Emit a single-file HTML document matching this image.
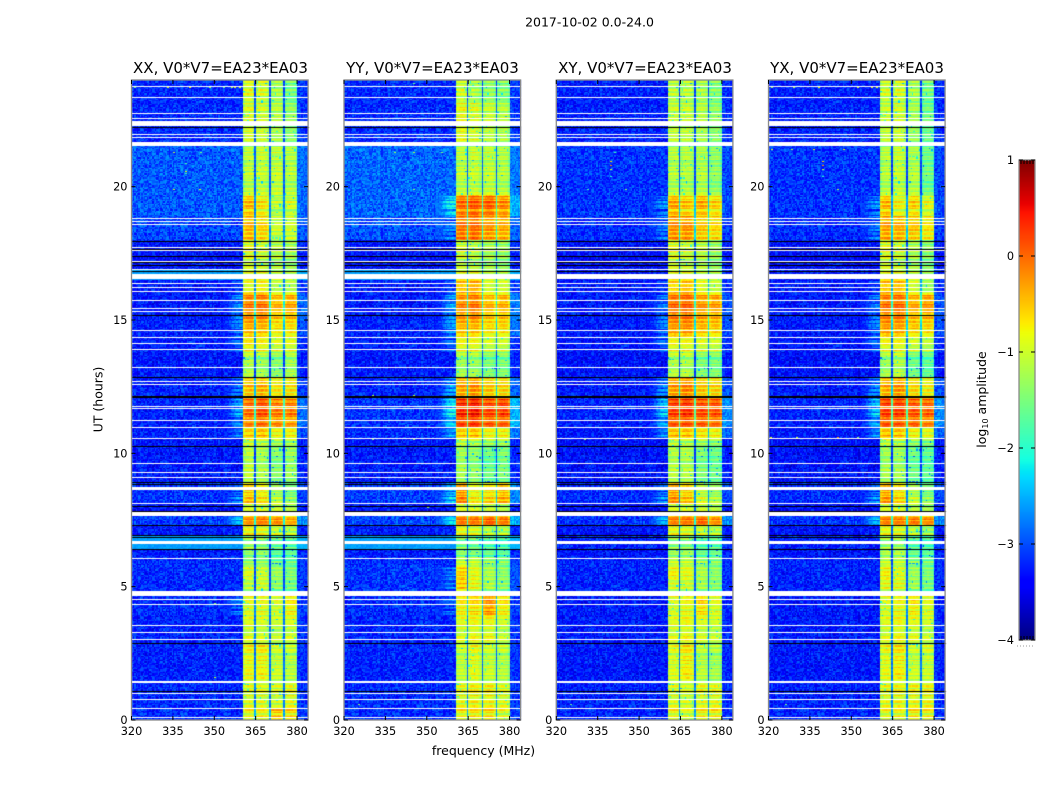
<!DOCTYPE html>
<html lang="en">
<head>
<meta charset="utf-8">
<title>2017-10-02 0.0-24.0</title>
<style>
html,body{margin:0;padding:0;background:#fff;}
#stage{position:relative;width:1050px;height:800px;overflow:hidden;background:#fff;}
#stage canvas,#stage svg{position:absolute;left:0;top:0;}
text{font-family:"DejaVu Sans","Liberation Sans",sans-serif;fill:#000;}
</style>
</head>
<body>
<div id="stage">
<canvas id="heat" width="1050" height="800"></canvas>
<svg id="overlay" width="1050" height="800" viewBox="0 0 1050 800">
  <text x="589.5" y="26.5" font-size="12.5" text-anchor="middle">2017-10-02 0.0-24.0</text>
  <text x="220.5" y="73" font-size="15" text-anchor="middle">XX, V0*V7=EA23*EA03</text>
  <text x="432.5" y="73" font-size="15" text-anchor="middle">YY, V0*V7=EA23*EA03</text>
  <text x="645" y="73" font-size="15" text-anchor="middle">XY, V0*V7=EA23*EA03</text>
  <text x="857" y="73" font-size="15" text-anchor="middle">YX, V0*V7=EA23*EA03</text>
  <text x="483.5" y="755" font-size="12.5" text-anchor="middle">frequency (MHz)</text>
  <text transform="translate(102.5,399.5) rotate(-90)" font-size="12.5" text-anchor="middle">UT (hours)</text>
  <text transform="translate(986,399.5) rotate(-90)" font-size="12.5" text-anchor="middle">log<tspan font-size="8" dy="2">10</tspan><tspan dy="-2"> amplitude</tspan></text>
  <line x1="1017" y1="646" x2="1035" y2="646" stroke="#999" stroke-width="1" stroke-dasharray="1 2"></line>
</svg>
</div>
<script>
// ---- Axis data ----
const freqTicks = [320, 335, 350, 365, 380];
const hourTicks = [0, 5, 10, 15, 20];
const colorbarTicks = [1, 0, -1, -2, -3, -4];
const colorbarLabels = ["1", "0", "\u22121", "\u22122", "\u22123", "\u22124"];
const panelNames = ["xx", "yy", "xy", "yx"];

// ---- Observing bands (MHz) ----
const bandEdgesMHz = [[360.5, 364.6], [365, 370.1], [370.5, 375.1], [375.5, 380]];
const shoulderStartMHz = 353;
const shoulderProfile = [0, .03, .08, .15, .25, .35, .5, .65, .75, .85, .9, .95, 1, 1, 1, 1, 1];
const bandProfile = [-.15, -.04, 0, .02, .03, .02, 0, -.04, -.2];

// ---- Time segments: start hour of each row of the level tables ----
const segmentStartHours = [0, .4, 1.45, 2.88, 3.9, 4.6, 4.85, 5.3, 5.8, 6.1, 6.4, 6.9, 7.3, 7.65, 7.85, 8.15, 8.9, 10.3, 10.55, 11, 12.1, 12.85, 13.8, 14.4, 15, 16, 16.5, 16.9, 18, 18.9, 19.7, 21.6, 23.2];

// ---- log10 amplitude per segment: background, shoulder, band 1-4 ----
const xxLevels = [
[-3.2,-9,-.9,-.85,-.55,-.7],[-3.2,-9,-1,-1,-1.05,-.95],[-3.25,-9,-.9,-.85,-1.1,-1.2],[-3.25,-9,-1,-1.05,-1.1,-1.05],
[-3.2,-2.9,-.95,-.95,-1.05,-.85],[-3.2,-9,-1,-1,-1.2,-1],[-3.2,-9,-1.15,-1,-1.4,-1.5],[-3.2,-9,-.95,-1.05,-1.3,-1.5],
[-3.2,-9,-1.5,-1.5,-1.7,-1.7],[-3.3,-9,-1.5,-1.5,-1.8,-1.8],[-2.6,-9,-1.3,-1.4,-1.6,-1.7],[-3.3,-9,-.85,-.95,-1.1,-1.2],
[-3.1,-2.5,-.3,-.2,-.3,-.45],[-3.2,-9,-.8,-.8,-.8,-1],[-3.3,-9,-1,-1,-1.1,-1.2],[-3.15,-2.9,-.6,-.8,-1.25,-1.5],
[-3.3,-9,-1.15,-1.25,-1.45,-1.35],[-3.3,-9,-.95,-1.05,-1.2,-1.2],[-3.25,-2.85,-.6,-.5,-.85,-.8],[-3.25,-2.7,-.15,0,-.2,-.25],
[-3.25,-2.95,-.6,-.55,-.8,-.8],[-3.3,-9,-1.2,-1.3,-1.45,-1.3],[-3.25,-3,-.8,-.85,-1.05,-1],[-3.25,-2.85,-.45,-.5,-.75,-.75],
[-3.3,-2.75,-.2,-.15,-.45,-.4],[-3.3,-2.95,-.8,-.7,-1.05,-1.1],[-2.6,-9,-.9,-.9,-1.1,-1.2],[-3.3,-9,-1,-1.1,-1.25,-1.35],
[-3.05,-9,-.55,-.7,-1.1,-1.1],[-2.95,-9,-.55,-.8,-1.2,-1.1],[-2.95,-9,-1.15,-1.1,-1.1,-1.2],[-3.2,-9,-1,-1.05,-1.2,-1.4],[-3.2,-9,-1,-1.05,-1.3,-1.6]];
const yyLevels = [
[-3.2,-9,-.85,-.75,-.7,-.95],[-3.2,-9,-.95,-.85,-.85,-1],[-3.25,-9,-1.15,-.95,-1.1,-1.2],[-3.25,-9,-1,-.9,-.9,-1.1],
[-3.2,-3,-.8,-.7,-.35,-.8],[-3.2,-9,-.9,-.8,-.6,-.9],[-3.15,-2.85,-.55,-.85,-1.2,-1.35],[-3.15,-2.85,-.6,-.9,-1.2,-1.4],
[-3.2,-9,-1.2,-1.2,-1.4,-1.5],[-3.3,-9,-1.5,-1.6,-1.7,-1.8],[-2.6,-9,-1.5,-1.6,-1.7,-1.8],[-3.3,-9,-.9,-1,-1.2,-1.2],
[-3.05,-2.35,-.15,-.15,-.05,-.2],[-3.2,-9,-.8,-.8,-.8,-1],[-3.3,-9,-1,-1,-1.1,-1.2],[-3.1,-2.55,-.3,-.85,-.7,-.5],
[-3.3,-9,-1.3,-1.4,-1.6,-1.5],[-3.3,-9,-1,-1.1,-1.2,-1.2],[-3.2,-2.65,-.55,-.5,-.8,-.8],[-3.15,-2.35,.2,.28,.08,.08],
[-3.25,-2.75,-.45,-.35,-.6,-.7],[-3.3,-9,-1.3,-1.3,-1.5,-1.5],[-3.25,-3,-.9,-.9,-1.1,-1.1],[-3.25,-2.7,-.5,-.5,-.7,-.7],
[-3.3,-2.65,-.25,-.15,-.45,-.45],[-3.3,-2.95,-.4,-.3,-.9,-.9],[-2.6,-9,-.9,-.9,-1.1,-1.2],[-3.3,-9,-1.1,-1.2,-1.3,-1.4],
[-3,-2.9,-.2,-.15,-.35,-.45],[-2.9,-2.35,-.15,-.05,-.1,-.3],[-2.9,-9,-1.15,-1.1,-1.1,-1.2],[-3.2,-9,-.9,-1,-1.1,-1.2],[-3.2,-9,-1.1,-1.3,-1.4,-1.5]];
const xyLevels = [
[-3.25,-9,-.9,-1,-.8,-.8],[-3.25,-9,-1,-1.05,-.95,-.95],[-3.3,-9,-1,-.8,-1.2,-1.3],[-3.3,-9,-1,-.9,-1,-1.1],
[-3.3,-9,-1,-.9,-.7,-1],[-3.3,-9,-1,-1,-1,-1.1],[-3.25,-9,-1,-1,-1.25,-1.4],[-3.25,-9,-.8,-.9,-1.2,-1.4],
[-3.25,-9,-1.2,-1.2,-1.4,-1.5],[-3.35,-9,-1.4,-1.4,-1.7,-1.7],[-3.25,-9,-1.4,-1.4,-1.7,-1.7],[-3.35,-9,-.9,-1,-1.1,-1.2],
[-3.15,-2.55,-.2,-.15,-.1,-.3],[-3.3,-9,-.8,-.8,-.8,-1],[-3.35,-9,-1,-1,-1.1,-1.2],[-3.2,-2.85,-.35,-.6,-1.1,-1.3],
[-3.35,-9,-1.2,-1.2,-1.5,-1.6],[-3.35,-9,-1,-1.1,-1.2,-1.3],[-3.3,-2.75,-.5,-.5,-.7,-.8],[-3.25,-2.55,.1,.15,.05,0],
[-3.3,-2.85,-.4,-.3,-.6,-.7],[-3.35,-9,-1.2,-1.2,-1.5,-1.5],[-3.3,-3,-.9,-.9,-1.05,-1.1],[-3.3,-2.85,-.35,-.3,-.5,-.6],
[-3.3,-2.85,-.1,-.05,-.3,-.35],[-3.3,-3,-.5,-.4,-.8,-1],[-3.3,-9,-.9,-.9,-1.1,-1.2],[-3.35,-9,-1,-1.1,-1.2,-1.4],
[-3.2,-2.95,-.35,-.35,-.6,-.7],[-3.15,-2.85,-.45,-.6,-.5,-.7],[-3.15,-9,-1.2,-1.2,-1.2,-1.4],[-3.25,-9,-1.1,-1.1,-1.2,-1.4],[-3.25,-9,-1.2,-1.2,-1.3,-1.5]];
const yxLevels = [
[-3.25,-9,-.95,-.9,-.75,-.85],[-3.25,-9,-.95,-.9,-.9,-.9],[-3.3,-9,-.95,-.8,-1.1,-1.1],[-3.3,-9,-1,-.9,-.95,-1.1],
[-3.3,-9,-1,-.9,-.8,-1],[-3.3,-9,-1,-1,-1,-1.1],[-3.25,-9,-.9,-.9,-1.3,-1.5],[-3.25,-9,-.8,-.95,-1.3,-1.5],
[-3.25,-9,-1.2,-1.2,-1.5,-1.6],[-3.35,-9,-1.3,-1.3,-1.7,-1.8],[-3.25,-9,-1.3,-1.3,-1.7,-1.8],[-3.35,-9,-.9,-1,-1.2,-1.4],
[-3.15,-2.55,-.2,-.2,-.2,-.3],[-3.3,-9,-.8,-.8,-.9,-1.1],[-3.35,-9,-1,-1,-1.2,-1.3],[-3.2,-2.85,-.4,-.7,-1.2,-1.5],
[-3.35,-9,-1.3,-1.3,-1.6,-1.7],[-3.35,-9,-1,-1.1,-1.3,-1.4],[-3.3,-2.75,-.5,-.5,-.8,-.9],[-3.25,-2.55,.1,.1,0,-.1],
[-3.3,-2.85,-.5,-.4,-.7,-.9],[-3.35,-9,-1.3,-1.2,-1.6,-1.7],[-3.3,-3,-.9,-.9,-1.1,-1.2],[-3.3,-2.85,-.35,-.4,-.6,-.7],
[-3.3,-2.85,-.15,-.1,-.4,-.35],[-3.3,-3,-.4,-.4,-.9,-1.2],[-3.3,-9,-.9,-.9,-1.1,-1.3],[-3.35,-9,-1,-1.1,-1.3,-1.5],
[-3.2,-2.95,-.45,-.5,-.6,-.8],[-3.15,-2.85,-.55,-.9,-.7,-1],[-3.15,-9,-1.2,-1.1,-1.2,-1.6],[-3.25,-9,-1.1,-1.05,-1.3,-1.6],[-3.25,-9,-1.1,-1.05,-1.3,-1.6]];

// ---- Flagged rows (hours), common to all four panels ----
const whiteLineHours = [23.76,23.35,22.77,22.58,21.98,21.85,18.81,18.72,18.59,17.75,17.63,17.21,16.9,16.39,16.23,16.08,15.74,15.45,15.35,14.61,14.35,14.15,13.91,13.23,12.71,12.59,11.79,11.7,11.25,10.98,10.56,9.65,9.31,9.1,8.13,6.09,4.55,4.36,3.55,3.31,3.03,1.46,1.41,1.01,.78,.46,.11];
const whiteBandStart = [22.28,21.53,16.55,8.63,7.65,6.6,4.64];
const whiteBandEnd = [22.45,21.66,16.73,8.75,7.81,6.72,4.84];
const blackLineHours = [22.23,17.95,17.66,17.41,17.18,17.08,16.84,15.19,12.85,12.14,12.1,10.27,8.94,8.85,8.03,7.83,7.3,6.95,6.87,6.4,2.88,1.08];

// ---- Isolated bright cells: hour, MHz, log10 amplitude ----
const xxHotCells = [[23.72,321,-1.6],[23.72,333,-.9],[23.72,341,-.8],[23.72,348,-1.2],[23.72,353,-1.6],[23.72,356,-1.2],[23.72,357,-.9],[23.72,359,-.9],[21.3,345,-1.5],[21.3,335,-1.2],[20.9,339.5,-1.8],[20.6,339.5,-.9],[20.5,339.5,-1.8],[19.9,344.5,-.9],[19.9,335,-1],[16.4,345,-1.2],[1.6,350,-1],[4.4,350,-1.4]];
const yyHotCells = [[23.9,345,-1.6],[21.3,338,-1.3],[21.3,345,-1.2],[21.3,355,-1.5],[19.9,345,-1.5],[12.2,330,-1.3],[12.2,345,-1.2],[10.55,330,-1.5],[10.55,345,-1.4],[8,350,-1.3],[.6,325,-1.4]];
const xyHotCells = [[20.95,339.5,-.6],[20.8,339.5,-.2],[20.65,339.5,-1],[20.4,339.5,-2],[19.9,345,-1.4],[19.9,331,-1.8],[21.3,341,-1.8],[16.4,327,-1.8],[10.55,330,-1.5],[10.55,345,-1.3],[.6,325,-1.6]];
const yxHotCells = [[23.72,321,-1.4],[23.72,329,-1.2],[23.72,338,-.7],[23.72,352,-1],[23.72,357,-.9],[23.72,359,-.9],[21.4,321,-1],[21.4,328,-1.2],[21.4,336,-.9],[21.4,347,-.9],[20.95,339.5,-.6],[20.8,339.5,-.2],[20.65,339.5,-1],[20.4,339.5,-2],[19.9,345,-1.2],[10.6,320.5,-.9],[10.6,330,-1],[10.6,345,-.3],[10.6,352,-1.4],[.6,326,-1.5]];

// ---- Hand-typed texture residuals (log10 units) ----
const speckle = [.18,-.22,.05,.31,-.12,-.34,.09,.24,-.05,-.27,.14,.36,-.18,.02,-.31,.21,.11,-.09,-.24,.28,-.02,.16,-.38,.07,.26,-.15,-.06,.33,-.21,.12,-.29,.04,.19,-.11,.38,-.25,-.03,.23,-.17,.08,-.33,.29,.01,-.14,.17,-.26,.35,-.08,.13,-.2,.06,.27,-.36,.1,-.04,.22,-.16,.3,-.28,.03,.15];
const rowRipple = [.08,-.12,.16,.02,-.2,.1,-.04,.2,-.16,.05,.12,-.08,-.22,.14,.03,.18,-.1,-.02,.22,-.18,.07,-.06,.13,-.24,.09,.17,-.13,.01,.19,-.09,-.15,.11,.04,-.19,.15,-.03,.06];

// ---- Layout ----
const panelLefts = [131.5, 344, 556.3, 768.5];
const panelWidth = 176.6, plotTop = 80, plotBottom = 720, plotHeight = plotBottom - plotTop;
const freqMin = 320, freqMax = 384, channelCount = 128, rowCount = 480;
const hourMax = 24, cbarLeft = 1019, cbarRight = 1035, cbarTop = 160, cbarBottom = 640;
const allLevels = [xxLevels, yyLevels, xyLevels, yxLevels];
const allHotCells = [xxHotCells, yyHotCells, xyHotCells, yxHotCells];

function xScale(panel, mhz) { return panelLefts[panel] + (mhz - freqMin) / (freqMax - freqMin) * panelWidth; }
function yScale(hour) { return plotBottom - hour / hourMax * plotHeight; }
function cbarScale(value) { return cbarBottom - (value + 4) / 5 * (cbarBottom - cbarTop); }

function jetChannel(v, xs, ys) {
  for (let i = 1; i < xs.length; i++) {
    if (v <= xs[i]) return ys[i - 1] + (ys[i] - ys[i - 1]) * (v - xs[i - 1]) / (xs[i] - xs[i - 1]);
  }
  return ys[ys.length - 1];
}
function jetCss(v) {
  const r = jetChannel(v, [0, .35, .66, .89, 1], [0, 0, 1, 1, .5]);
  const g = jetChannel(v, [0, .125, .375, .64, .91, 1], [0, 0, 1, 1, 0, 0]);
  const b = jetChannel(v, [0, .11, .34, .65, 1], [.5, 1, 1, 0, 0]);
  return "rgb(" + Math.round(r * 255) + "," + Math.round(g * 255) + "," + Math.round(b * 255) + ")";
}
const palette = [];
for (let i = 0; i <= 255; i++) palette.push(jetCss(i / 255));
function colorFor(logValue) {
  const v = Math.max(0, Math.min(1, (logValue + 4) / 5));
  return palette[Math.round(v * 255)];
}

function segmentAt(hour) {
  let s = 0;
  for (let i = 0; i < segmentStartHours.length; i++) if (hour >= segmentStartHours[i]) s = i;
  return s;
}

function cellValue(levels, c, r) {
  const mhz = freqMin + (c + .5) * (freqMax - freqMin) / channelCount;
  const hour = (r + .5) * hourMax / rowCount;
  const seg = levels[segmentAt(hour)];
  const noise = speckle[(c * c * 5 + c * r * 3 + r * r * 11 + c * 7 + r * 13) % speckle.length];
  const ripple = rowRipple[r % rowRipple.length];
  const bg = seg[0];
  let inBand = -1, offset = 0;
  for (let b = 0; b < bandEdgesMHz.length; b++) {
    if (mhz >= bandEdgesMHz[b][0] && mhz < bandEdgesMHz[b][1]) {
      inBand = b;
      offset = Math.floor((mhz - bandEdgesMHz[b][0]) * 2);
    }
  }
  if (inBand >= 0) {
    const level = seg[2 + inBand];
    const dropout = (noise <= -.36 && level < -.9) ? -.9 : 0;
    return level + bandProfile[Math.min(offset, bandProfile.length - 1)] + ripple * 1.6 + noise * .35 + dropout;
  }
  if (mhz >= bandEdgesMHz[0][0] && mhz < bandEdgesMHz[3][1]) {
    const near = (seg[2] + seg[3] + seg[4] + seg[5]) / 4;
    return Math.max(near - 1.8, -3.1) + noise * .4;
  }
  const bgNoise = bg > -2.7 ? noise * .3 : noise;
  if (mhz >= bandEdgesMHz[3][1]) {
    const right = seg[1] > bg ? Math.max(bg, seg[1] - .25) : bg;
    return right + .1 + bgNoise * .8;
  }
  if (mhz >= shoulderStartMHz && seg[1] > bg) {
    const p = shoulderProfile[Math.floor((mhz - shoulderStartMHz) * 2)];
    return bg + (seg[1] - bg + ripple * 2) * p + bgNoise * .6;
  }
  return bg + bgNoise;
}

const ctx = document.getElementById("heat").getContext("2d");
ctx.fillStyle = "#fff";
ctx.fillRect(0, 0, 1050, 800);

function drawPanel(p) {
  const levels = allLevels[p];
  const chanMHz = (freqMax - freqMin) / channelCount;
  const rowHours = hourMax / rowCount;
  for (let r = 0; r < rowCount; r++) {
    const yTop = Math.round(yScale((r + 1) * rowHours));
    const yBot = Math.round(yScale(r * rowHours));
    for (let c = 0; c < channelCount; c++) {
      const x0 = Math.round(xScale(p, freqMin + c * chanMHz));
      const x1 = Math.round(xScale(p, freqMin + (c + 1) * chanMHz));
      ctx.fillStyle = colorFor(cellValue(levels, c, r));
      ctx.fillRect(x0, yTop, x1 - x0, yBot - yTop);
    }
  }
  allHotCells[p].forEach(function (cell) {
    ctx.fillStyle = colorFor(cell[2]);
    ctx.fillRect(Math.round(xScale(p, cell[1])), Math.round(yScale(cell[0])), 2, 1);
  });
  const xL = Math.round(xScale(p, freqMin)), xW = Math.round(panelWidth);
  ctx.fillStyle = "#fff";
  for (let i = 0; i < whiteBandStart.length; i++) {
    const top = Math.round(yScale(whiteBandEnd[i]));
    ctx.fillRect(xL, top, xW, Math.round(yScale(whiteBandStart[i])) - top);
  }
  whiteLineHours.forEach(function (h) {
    ctx.fillRect(xL, Math.round(yScale(h)), xW, 1);
  });
  ctx.fillStyle = "#000";
  blackLineHours.forEach(function (h) {
    ctx.fillRect(xL, Math.round(yScale(h)), xW, 1);
  });
}
for (let p = 0; p < panelNames.length; p++) drawPanel(p);

// colorbar body
for (let y = cbarTop; y < cbarBottom; y++) {
  ctx.fillStyle = jetCss((cbarBottom - y - .5) / (cbarBottom - cbarTop));
  ctx.fillRect(cbarLeft, y, cbarRight - cbarLeft, 1);
}

// ---- SVG overlay: frames, ticks, tick labels ----
const svg = document.getElementById("overlay");
const NS = "http://www.w3.org/2000/svg";
function makeTick(x1, y1, x2, y2, color) {
  const el = document.createElementNS(NS, "line");
  el.setAttribute("x1", x1);
  el.setAttribute("y1", y1);
  el.setAttribute("x2", x2);
  el.setAttribute("y2", y2);
  el.setAttribute("stroke", color);
  el.setAttribute("stroke-width", "1");
  
  
  svg.appendChild(el);
}
function makeLabel(x, y, anchor, content) {
  const el = document.createElementNS(NS, "text");
  el.setAttribute("x", x);
  el.setAttribute("y", y);
  el.setAttribute("font-size", "11.3");
  el.setAttribute("text-anchor", anchor);
  el.textContent = content;
  
  
  svg.appendChild(el);
}
function makeFrame(x, y, w, h) {
  const el = document.createElementNS(NS, "rect");
  el.setAttribute("x", x);
  el.setAttribute("y", y);
  el.setAttribute("width", w);
  el.setAttribute("height", h);
  el.setAttribute("fill", "none");
  el.setAttribute("stroke", "#8a8a8a");
  el.setAttribute("stroke-width", "1.3");
  
  
  svg.appendChild(el);
}
for (let p = 0; p < panelNames.length; p++) {
  makeFrame(panelLefts[p], plotTop, panelWidth, plotHeight);
  freqTicks.forEach(function (f) {
    const x = xScale(p, f);
    makeTick(x, plotBottom, x, plotBottom - 4, "#000");
    makeTick(x, plotTop, x, plotTop + 4, "#000");
    makeLabel(x, plotBottom + 15, "middle", String(f));
  });
  hourTicks.forEach(function (h) {
    const y = yScale(h);
    makeTick(panelLefts[p], y, panelLefts[p] + 4, y, "#000");
    makeTick(panelLefts[p] + panelWidth, y, panelLefts[p] + panelWidth - 4, y, "#000");
    makeLabel(panelLefts[p] - 4, y + 4, "end", String(h));
  });
}
makeFrame(cbarLeft, cbarTop, cbarRight - cbarLeft, cbarBottom - cbarTop);
colorbarTicks.forEach(function (v, i) {
  const y = cbarScale(v);
  makeTick(cbarLeft, y, cbarLeft + 4, y, "#000");
  makeTick(cbarRight, y, cbarRight - 4, y, "#000");
  makeLabel(cbarLeft - 5, y + 4, "end", colorbarLabels[i]);
});
const cbarEdgeTickOffsets = [3, 6, 9, 12, 15];
cbarEdgeTickOffsets.forEach(function (dx) {
  makeTick(cbarLeft + dx - 1, cbarTop, cbarLeft + dx - 1, cbarTop + 4, "#000");
  makeTick(cbarLeft + dx - 1, cbarBottom, cbarLeft + dx - 1, cbarBottom - 4, "#000");
});
</script>
</body>
</html>
